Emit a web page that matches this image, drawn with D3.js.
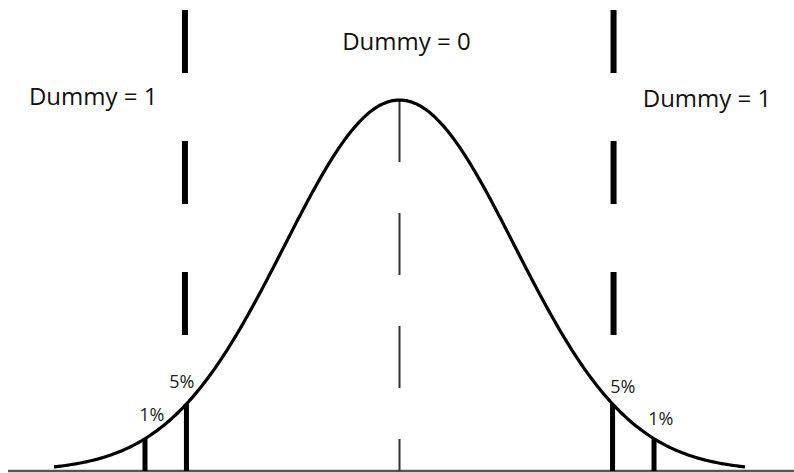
<!DOCTYPE html>
<html>
<head>
<meta charset="utf-8">
<script src="https://cdnjs.cloudflare.com/ajax/libs/d3/7.8.5/d3.min.js"></script>
<style>
  body { margin: 0; background: #fff; }
  svg { display: block; }
</style>
</head>
<body>
<div id="canvas"></div>
<script>
// canvas size
var w = 794;
var h = 473;

// data: standard normal density, critical values and labels
var zRange = [-3, 3];
var zStep = 0.02;
var critical5 = [-1.85, 1.85];
var critical1 = [-2.21, 2.21];
var regionLabels = ["Dummy = 1", "Dummy = 0", "Dummy = 1"];
var regionZ = [-2.66, 0.06, 2.67];
var regionY = [0.3935, 0.4527, 0.3914];
var pctLabels = ["5%", "1%", "5%", "1%"];
var pctZ = [-1.89, -2.15, 1.94, 2.27];
var pctY = [0.0892, 0.0538, 0.0839, 0.0495];

function dnorm(z) {
    return Math.exp(-z * z / 2) / Math.sqrt(2 * Math.PI);
}

var curve = d3.range(zRange[0], zRange[1] + zStep / 2, zStep).map(z => ({z: z, y: dnorm(z)}));

var svg = d3.select("#canvas")
    .append("svg")
    .attr("width", w)
    .attr("height", h)
    .style("background-color", "white");

// scales
var x = d3.scaleLinear()
    .domain(zRange)
    .range([54, 745]);

var y = d3.scaleLinear()
    .domain([0, dnorm(0)])
    .range([471, 100]);

// baseline
svg.append("line")
    .attr("x1", 8)
    .attr("x2", w)
    .attr("y1", y(0))
    .attr("y2", y(0))
    .attr("stroke", "#555")
    .attr("stroke-width", 2.5);

// centre dashed line
svg.append("line")
    .attr("x1", x(0))
    .attr("x2", x(0))
    .attr("y1", y(dnorm(0)))
    .attr("y2", y(0))
    .attr("stroke", "#333")
    .attr("stroke-width", 2)
    .attr("stroke-dasharray", "62,51");

// thick dashed dividers
svg.selectAll(".divider")
    .data(critical5)
    .join("line")
    .attr("class", "divider")
    .attr("x1", d => x(d) - (d < 0 ? 1.5 : -1))
    .attr("x2", d => x(d) - (d < 0 ? 1.5 : -1))
    .attr("y1", 10)
    .attr("y2", 335)
    .attr("stroke", "black")
    .attr("stroke-width", 6)
    .attr("stroke-dasharray", "63,68");

// density curve
var line = d3.line()
    .x(d => x(d.z))
    .y(d => y(d.y))
    .curve(d3.curveBasis);

svg.append("path")
    .datum(curve)
    .attr("d", line)
    .attr("fill", "none")
    .attr("stroke", "black")
    .attr("stroke-width", 3.2);

// critical value bars
svg.selectAll(".crit")
    .data(critical5.concat(critical1))
    .join("line")
    .attr("class", "crit")
    .attr("x1", d => x(d))
    .attr("x2", d => x(d))
    .attr("y1", d => y(dnorm(d)))
    .attr("y2", y(0))
    .attr("stroke", "black")
    .attr("stroke-width", 5);

// region labels
svg.selectAll(".region")
    .data(regionLabels)
    .join("text")
    .attr("class", "region")
    .attr("x", (d, i) => x(regionZ[i]))
    .attr("y", (d, i) => y(regionY[i]))
    .attr("text-anchor", "middle")
    .style("font-family", "'Open Sans', sans-serif")
    .style("font-size", "24px")
    .attr("fill", "#111")
    .text(d => d);

// percentage labels
svg.selectAll(".pct")
    .data(pctLabels)
    .join("text")
    .attr("class", "pct")
    .attr("x", (d, i) => x(pctZ[i]))
    .attr("y", (d, i) => y(pctY[i]))
    .attr("text-anchor", "middle")
    .style("font-family", "'Open Sans', sans-serif")
    .style("font-size", "18px")
    .attr("fill", "#222")
    .text(d => d);
</script>
</body>
</html>
